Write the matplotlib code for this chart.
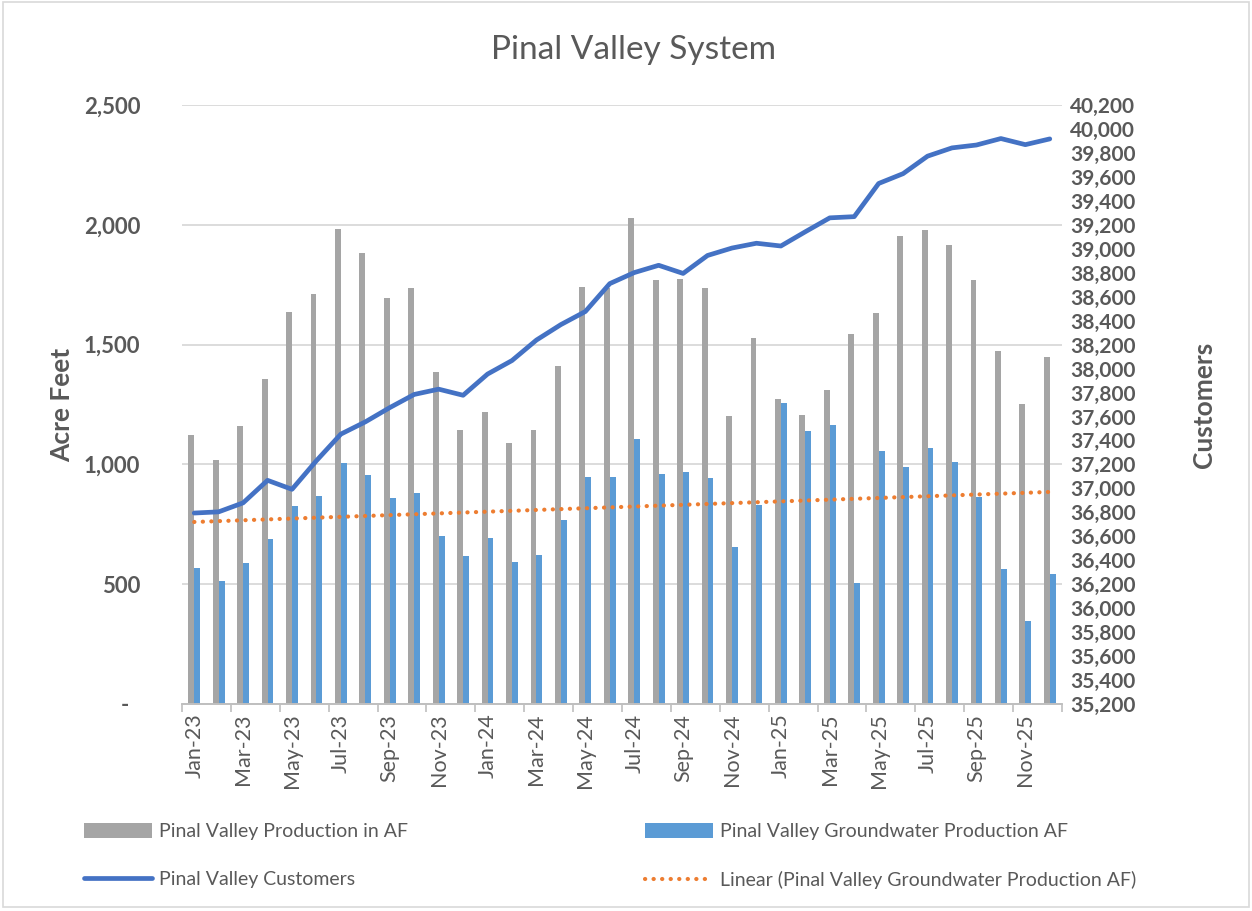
import numpy as np
import matplotlib
matplotlib.use("Agg")
import matplotlib.pyplot as plt
from matplotlib.ticker import FuncFormatter, FixedLocator
from matplotlib.patches import Rectangle

plt.rcParams['font.family'] = ['Lato', 'DejaVu Sans']

# months Jan-23 .. Dec-25
months = ["Jan-23", "Feb-23", "Mar-23", "Apr-23", "May-23", "Jun-23",
          "Jul-23", "Aug-23", "Sep-23", "Oct-23", "Nov-23", "Dec-23",
          "Jan-24", "Feb-24", "Mar-24", "Apr-24", "May-24", "Jun-24",
          "Jul-24", "Aug-24", "Sep-24", "Oct-24", "Nov-24", "Dec-24",
          "Jan-25", "Feb-25", "Mar-25", "Apr-25", "May-25", "Jun-25",
          "Jul-25", "Aug-25", "Sep-25", "Oct-25", "Nov-25", "Dec-25"]

production = [1121, 1017, 1160, 1357, 1635, 1713, 1981, 1881, 1695, 1736, 1386, 1143,
              1217, 1090, 1143, 1411, 1741, 1738, 2029, 1768, 1775, 1737, 1203, 1527,
              1275, 1208, 1309, 1544, 1631, 1954, 1980, 1916, 1771, 1473, 1253, 1449]

groundwater = [568, 515, 589, 688, 828, 870, 1005, 954, 860, 881, 703, 616,
               691, 594, 621, 766, 947, 947, 1106, 962, 968, 945, 654, 831,
               1256, 1138, 1164, 503, 1055, 988, 1070, 1010, 864, 563, 345, 541]

customers = [36794, 36804, 36879, 37067, 36992, 37231, 37453, 37555, 37674, 37784, 37828, 37777,
             37954, 38067, 38238, 38367, 38476, 38709, 38801, 38862, 38794, 38944, 39006, 39046,
             39023, 39142, 39258, 39268, 39545, 39627, 39773, 39842, 39866, 39920, 39869, 39917]

text_col = "#595959"
grid_col = "#D9D9D9"

x = np.arange(len(months))

fig = plt.figure(figsize=(12.52, 9.11), dpi=100)
ax = fig.add_axes([182 / 1252, 1 - 704 / 911, 880 / 1252, 599 / 911])
ax2 = ax.twinx()

# bars
bw = 0.24
ax.bar(x - 0.12, production, width=bw, color="#A5A5A5", label="Pinal Valley Production in AF", zorder=2)
ax.bar(x + 0.12, groundwater, width=bw, color="#5B9BD5", label="Pinal Valley Groundwater Production AF", zorder=2)

# linear trend of groundwater
k, b = np.polyfit(x, groundwater, 1)
trend, = ax.plot(x, k * x + b, color="#ED7D31", linestyle=(0, (0.05, 2.0)), linewidth=3.0,
                 dash_capstyle="round", zorder=4,
                 label="Linear (Pinal Valley Groundwater Production AF)")

# customers
line, = ax2.plot(x, customers, color="#4472C4", linewidth=3.4, solid_capstyle="round",
                 label="Pinal Valley Customers", zorder=5)

ax.set_xlim(-0.5, len(months) - 0.5)
ax.set_ylim(0, 2500)
ax2.set_ylim(35200, 40200)

ax.set_yticks(np.arange(0, 2501, 500))
ax.yaxis.set_major_formatter(FuncFormatter(lambda v, p: "-  " if v == 0 else f"{v:,.0f}"))
ax2.set_yticks(np.arange(35200, 40201, 200))
ax2.yaxis.set_major_formatter(FuncFormatter(lambda v, p: f"{v:,.0f}"))

ax.grid(axis="y", color=grid_col, linewidth=1.3, zorder=0)
ax.set_axisbelow(True)

ax.set_xticks(x[::2])
ax.set_xticklabels(months[::2], rotation=90)
ax.xaxis.set_minor_locator(FixedLocator(np.arange(-0.5, len(months), 2)))
ax.tick_params(axis="x", which="major", length=0, pad=7, labelsize=15.5, labelcolor=text_col)
ax.tick_params(axis="x", which="minor", length=6, color="#BFBFBF", width=1.2)
ax.tick_params(axis="y", length=0, pad=30, labelsize=16, labelcolor=text_col)
ax2.tick_params(axis="y", length=0, pad=6, labelsize=15, labelcolor=text_col)
for lab in ax.get_yticklabels() + ax2.get_yticklabels():
    lab.set_fontweight("bold")

for a in (ax, ax2):
    for s in ["top", "left", "right"]:
        a.spines[s].set_visible(False)
    a.spines["bottom"].set_color("#BFBFBF")
    a.spines["bottom"].set_linewidth(1.2)

ax.set_ylabel("Acre Feet", fontsize=19, fontweight="bold", color=text_col, labelpad=7)
ax2.set_ylabel("Customers", fontsize=19, fontweight="bold", color=text_col, labelpad=40)

fig.text(0.506, 1 - 50 / 911, "Pinal Valley System", ha="center", va="center",
         fontsize=24, color=text_col)

handles, labels = ax.get_legend_handles_labels()
hmap = dict(zip(labels, handles))
order = [hmap["Pinal Valley Production in AF"], line,
         hmap["Pinal Valley Groundwater Production AF"], trend]
fig.legend(order, [h.get_label() for h in order], ncol=2, frameon=False,
           loc="center left", bbox_to_anchor=(66 / 1252, 1 - 856 / 911),
           fontsize=14, labelcolor=text_col, handlelength=3.5, handleheight=0.75,
           handletextpad=0.4, columnspacing=12.15, labelspacing=1.55)

fig.add_artist(Rectangle((0.002, 0.004), 0.996, 0.994, transform=fig.transFigure,
                         fill=False, edgecolor=grid_col, linewidth=1.2))

fig.savefig("out.png", dpi=100)
